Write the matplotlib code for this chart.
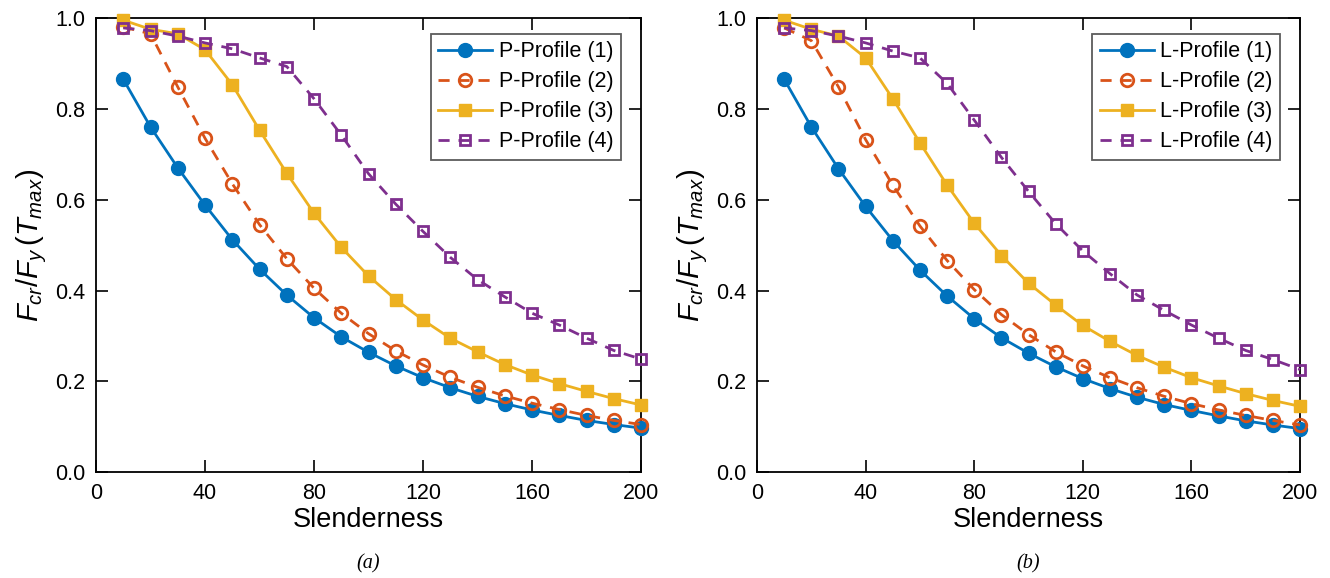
import matplotlib
matplotlib.use('Agg')
import matplotlib.pyplot as plt

plt.rcParams['font.family'] = ['Liberation Sans', 'DejaVu Sans']
plt.rcParams['mathtext.fontset'] = 'custom'
plt.rcParams['mathtext.rm'] = 'Liberation Sans'
plt.rcParams['mathtext.it'] = 'Liberation Sans:italic'

slenderness = list(range(10, 201, 10))

p1 = [0.865, 0.76, 0.67, 0.588, 0.512, 0.447, 0.39, 0.34, 0.298, 0.264,
      0.234, 0.208, 0.186, 0.167, 0.151, 0.137, 0.125, 0.114, 0.105, 0.097]
p2 = [0.98, 0.965, 0.848, 0.735, 0.635, 0.545, 0.47, 0.405, 0.35, 0.305,
      0.267, 0.236, 0.209, 0.187, 0.168, 0.152, 0.138, 0.125, 0.114, 0.105]
p3 = [0.995, 0.975, 0.965, 0.93, 0.853, 0.753, 0.658, 0.57, 0.495, 0.432,
      0.38, 0.335, 0.295, 0.265, 0.237, 0.214, 0.195, 0.178, 0.162, 0.148]
p4 = [0.978, 0.972, 0.96, 0.945, 0.932, 0.912, 0.893, 0.822, 0.742, 0.657,
      0.59, 0.53, 0.473, 0.424, 0.386, 0.35, 0.324, 0.295, 0.268, 0.249]

l1 = [0.865, 0.76, 0.668, 0.585, 0.51, 0.445, 0.388, 0.338, 0.296, 0.262,
      0.232, 0.206, 0.184, 0.165, 0.149, 0.136, 0.124, 0.113, 0.104, 0.096]
l2 = [0.978, 0.95, 0.848, 0.732, 0.632, 0.542, 0.466, 0.402, 0.347, 0.303,
      0.265, 0.234, 0.208, 0.186, 0.167, 0.151, 0.137, 0.125, 0.114, 0.104]
l3 = [0.995, 0.975, 0.96, 0.912, 0.822, 0.725, 0.632, 0.548, 0.477, 0.416,
      0.368, 0.323, 0.288, 0.257, 0.231, 0.208, 0.19, 0.173, 0.158, 0.145]
l4 = [0.978, 0.972, 0.96, 0.945, 0.927, 0.912, 0.856, 0.775, 0.693, 0.618,
      0.547, 0.487, 0.437, 0.39, 0.356, 0.324, 0.295, 0.268, 0.248, 0.226]

colors = ['#0072BD', '#D95319', '#EDB120', '#7E2F8E']
styles = [('-', 'o', True), ('--', 'o', False), ('-', 's', True), ('--', 's', False)]

fig = plt.figure(figsize=(13.3, 5.78), dpi=100)
ax_a = fig.add_axes([0.0722, 0.183, 0.4098, 0.786])
ax_b = fig.add_axes([0.5692, 0.183, 0.4083, 0.786])

panels = [
    (ax_a, [p1, p2, p3, p4], 'P-Profile', '(a)'),
    (ax_b, [l1, l2, l3, l4], 'L-Profile', '(b)'),
]

for ax, series, name, tag in panels:
    for i, (ys, c, (ls, mk, filled)) in enumerate(zip(series, colors, styles)):
        size = 10 if mk == 'o' else 9
        if not filled:
            size = 9 if mk == 'o' else 7.5
        ax.plot(slenderness, ys, linestyle=ls, marker=mk, color=c, lw=2,
                markersize=size, markeredgewidth=2 if not filled else 1,
                markerfacecolor=c if filled else 'none',
                dashes=(4, 3.2) if ls == '--' else (None, None),
                label=f'{name} ({i + 1})', clip_on=False, zorder=3)
    ax.set_xlim(0, 200)
    ax.set_ylim(0, 1.0)
    ax.set_xticks([0, 40, 80, 120, 160, 200])
    ax.set_yticks([0.0, 0.2, 0.4, 0.6, 0.8, 1.0])
    ax.set_yticklabels(['0.0', '0.2', '0.4', '0.6', '0.8', '1.0'])
    ax.tick_params(direction='in', length=8.5, width=1.2, labelsize=15.5,
                   top=True, right=True, pad=8)
    for sp in ax.spines.values():
        sp.set_linewidth(1.3)
    ax.set_xlabel('Slenderness', fontsize=19.5, labelpad=2)
    ax.set_ylabel(r'$F_{cr}/F_y\,(T_{max})$', fontsize=21, labelpad=4)
    leg = ax.legend(loc='upper right', fontsize=15.5, frameon=True, fancybox=False,
                    edgecolor='#333333', handlelength=2.5, handletextpad=0.3,
                    borderpad=0.35, labelspacing=0.42, borderaxespad=0,
                    bbox_to_anchor=(0.963, 0.965))
    leg.get_frame().set_linewidth(1.3)
    ax.text(0.5, -0.18, tag, transform=ax.transAxes, ha='center', va='top',
            fontsize=14.5, family='Liberation Serif', style='italic')

fig.savefig('out.png', dpi=100, facecolor='white')
